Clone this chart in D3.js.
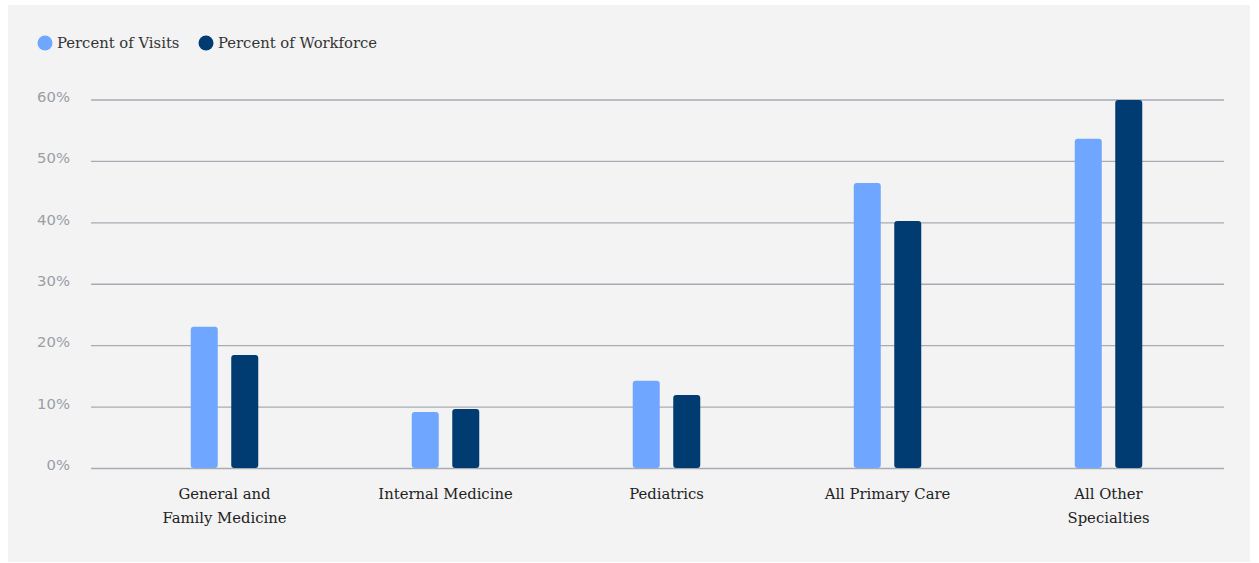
<!DOCTYPE html>
<html><head><meta charset="utf-8">
<script src="https://cdn.jsdelivr.net/npm/d3@7"></script>
<style>
html,body{margin:0;padding:0;background:#fff;}
svg{display:block;}
</style></head>
<body>
<svg id="chart" width="1259" height="563"></svg>
<script>
const categories = [["General and","Family Medicine"],["Internal Medicine"],["Pediatrics"],["All Primary Care"],["All Other","Specialties"]];
const seriesNames = ["Percent of Visits","Percent of Workforce"];
const visits = [23.0, 9.1, 14.2, 46.4, 53.6];
const workforce = [18.4, 9.6, 11.9, 40.2, 59.9];
const yTicks = [0,10,20,30,40,50,60];
const colors = ["#6fa6ff","#003b71"];

const svg = d3.select("#chart");
svg.append("rect").attr("x",8).attr("y",5).attr("width",1242).attr("height",557).attr("fill","#f3f3f3");

const keys = categories.map(c=>c.join(" "));
const x = d3.scaleBand().domain(keys).range([114,1219]);
const y = d3.scaleLinear().domain([0,60]).range([468,99.5]);

// gridlines
const yAxis = d3.axisLeft(y).tickValues(yTicks).tickFormat(d=>d+"%").tickSize(0);
const gy = svg.append("g").attr("transform","translate(91,0)").call(yAxis);
gy.select(".domain").remove();
gy.selectAll(".tick line").attr("x2",1224-91).attr("stroke","#a7abb3").attr("stroke-width",1.3);
gy.selectAll(".tick text").attr("x",-21).attr("dy","0.12em")
  .attr("fill","#9a9ea6").style("font-family","'DejaVu Sans', sans-serif").style("font-size","14.8px");

const data = keys.map((k,i)=>({key:k, vals:[visits[i],workforce[i]]}));
const bw = 27, gap = 13.5;
const groups = svg.append("g").selectAll("g").data(data).join("g")
  .attr("transform",d=>`translate(${x(d.key)+x.bandwidth()/2 - (2*bw+gap)/2},0)`);
groups.selectAll("rect").data(d=>d.vals.map((v,j)=>({v,j}))).join("rect")
  .attr("x",d=>d.j*(bw+gap)).attr("width",bw)
  .attr("y",d=>y(d.v)).attr("height",d=>y(0)-y(d.v))
  .attr("rx",3).attr("fill",d=>colors[d.j]);

// x labels
const xl = svg.append("g").selectAll("text").data(categories).join("text")
  .attr("x",(d,i)=>x(keys[i])+x.bandwidth()/2).attr("y",499)
  .attr("text-anchor","middle").attr("fill","#222")
  .style("font-family","'DejaVu Serif', serif").style("font-size","14.8px");
xl.each(function(d){
  const t=d3.select(this);
  d.forEach((line,k)=>t.append("tspan").attr("x",t.attr("x")).attr("dy",k?24:0).text(line));
});

// legend
const legX = [45, 206];
const lg = svg.append("g").selectAll("g").data(seriesNames).join("g")
  .attr("transform",(d,i)=>`translate(${legX[i]},43)`);
lg.append("circle").attr("r",7.5).attr("fill",(d,i)=>colors[i]);
lg.append("text").attr("x",12).attr("dy","0.35em").text(d=>d).attr("fill","#333")
  .style("font-family","'DejaVu Serif', serif").style("font-size","14.8px");
</script>
</body></html>
